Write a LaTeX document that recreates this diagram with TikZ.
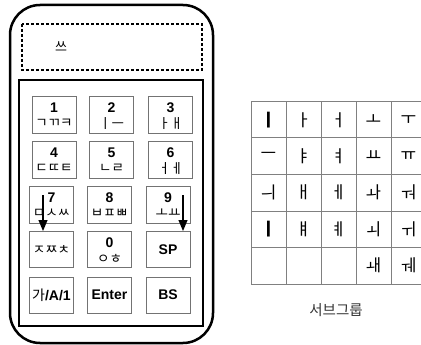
\documentclass[tikz,border=0pt]{standalone}
\usepackage{fontspec}
\setmainfont{Liberation Sans}
\newfontfamily\kr{Noto Sans CJK KR}
\usetikzlibrary{arrows.meta}
\tikzset{
  keybox/.style={draw=black!55, line width=0.8pt, minimum width=44pt, minimum height=37pt, inner sep=0pt},
  digit/.style={font=\fontsize{14}{14}\selectfont\bfseries, inner sep=0pt},
  jamo/.style={font=\kr\fontsize{13.5}{13.5}\selectfont, inner sep=0pt},
  cell/.style={font=\kr\fontsize{17}{17}\selectfont, inner sep=0pt},
  grid/.style={draw=black!50, line width=1pt},
  downarrow/.style={line width=1.2pt, -{Triangle[width=9pt,length=11pt]}}
}
\begin{document}
\begin{tikzpicture}[x=1pt,y=-1pt]
\useasboundingbox (0,0) rectangle (421,345);
% phone body
\draw[line width=2.5pt, rounded corners=30pt] (10,5) rectangle (213,343);
\draw[line width=1.3pt, dash pattern=on 3pt off 2pt] (22,24) rectangle (202,70);
\node[font=\kr\fontsize{13}{13}\selectfont, inner sep=0pt] (disp) at (61,47) {쓰};
\draw[line width=2pt] (19,80) rectangle (203,326);
% keys
\node[keybox] (k1) at (54,114.5) {};
\node[keybox] (k2) at (111.5,114.5) {};
\node[keybox] (k3) at (170.5,114.5) {};
\node[keybox] (k4) at (54,159.5) {};
\node[keybox] (k5) at (111.5,159.5) {};
\node[keybox] (k6) at (170.5,159.5) {};
\node[keybox] (k7) at (51.5,204.5) {};
\node[keybox] (k8) at (109.5,204.5) {};
\node[keybox] (k9) at (168,204.5) {};
\node[keybox, minimum height=36pt] (ks) at (51.5,249.5) {};
\node[keybox, minimum height=36pt] (k0) at (109.5,249.5) {};
\node[keybox, minimum height=36pt] (ksp) at (168,249.5) {};
\node[keybox, minimum height=36pt] (kl) at (51.5,295) {};
\node[keybox, minimum height=36pt] (ke) at (109.5,295) {};
\node[keybox, minimum height=36pt] (kb) at (168,295) {};
% key texts
\foreach \k/\d/\j in {k1/1/ㄱㄲㅋ, k2/2/ㅣㅡ, k3/3/ㅏㅐ, k4/4/ㄷㄸㅌ, k5/5/ㄴㄹ, k6/6/ㅓㅔ, k7/7/ㅁㅅㅆ, k8/8/ㅂㅍㅃ, k9/9/ㅗㅛ}{
  \node[digit] (\k d) at ([yshift=7pt]\k.center) {\d};
  \node[jamo] (\k j) at ([yshift=-9pt]\k.center) {\j};
}
\node[jamo] (ksj) at (ks.center) {ㅈㅉㅊ};
\node[digit] (k0d) at ([yshift=7pt]k0.center) {0};
\node[jamo] (k0j) at ([yshift=-9pt]k0.center) {ㅇㅎ};
\node[digit] (kspt) at (ksp.center) {SP};
\node[digit] (klt) at (kl.center) {{\kr\mdseries 가}/A/1};
\node[digit] (ket) at (ke.center) {Enter};
\node[digit] (kbt) at (kb.center) {BS};
% arrows
\coordinate (a1s) at (43,195);
\coordinate (a1e) at (43,231);
\coordinate (a2s) at (183,195);
\coordinate (a2e) at (183,231);
\draw[downarrow] (a1s) -- (a1e);
\draw[downarrow] (a2s) -- (a2e);
% table
\foreach \x in {251,286,321,356,391}{ \draw[grid] (\x,102) -- (\x,284); }
\foreach \y in {102,138,174,211,247,284}{ \draw[grid] (251,\y) -- (421,\y); }
\foreach \r/\y in {1/120,2/156,3/192.5,4/229,5/265.5}{
  \foreach \c/\x in {1/268.5,2/303.5,3/338.5,4/373.5,5/408.5}{
    \coordinate (c\r\c) at (\x,\y);
  }
}
\node[cell] (t11) at (c11) {\bfseries ㅣ};
\node[cell] (t12) at (c12) {ㅏ};
\node[cell] (t13) at (c13) {ㅓ};
\node[cell] (t14) at (c14) {ㅗ};
\node[cell] (t15) at (c15) {ㅜ};
\node[cell] (t21) at (c21) {ㅡ};
\node[cell] (t22) at (c22) {ㅑ};
\node[cell] (t23) at (c23) {ㅕ};
\node[cell] (t24) at (c24) {ㅛ};
\node[cell] (t25) at (c25) {ㅠ};
\node[cell] (t31) at (c31) {ㅢ};
\node[cell] (t32) at (c32) {ㅐ};
\node[cell] (t33) at (c33) {ㅔ};
\node[cell] (t34) at (c34) {ㅘ};
\node[cell] (t35) at (c35) {ㅝ};
\node[cell] (t41) at (c41) {\bfseries ㅣ};
\node[cell] (t42) at (c42) {ㅒ};
\node[cell] (t43) at (c43) {ㅖ};
\node[cell] (t44) at (c44) {ㅚ};
\node[cell] (t45) at (c45) {ㅟ};
\node[cell] (t54) at (c54) {ㅙ};
\node[cell] (t55) at (c55) {ㅞ};
\node[font=\kr\fontsize{14.5}{14.5}\selectfont, text=black!80, inner sep=0pt] (cap) at (336,310) {서브그룹};
\end{tikzpicture}
\end{document}
